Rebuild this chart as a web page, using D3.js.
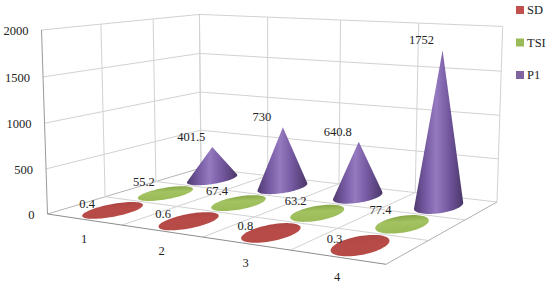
<!DOCTYPE html>
<html><head><meta charset="utf-8">
<script src="https://cdn.jsdelivr.net/npm/d3@7"></script>
<style>html,body{margin:0;padding:0;background:#fff}svg{display:block}text{font-family:"Liberation Serif",serif;fill:#222;font-size:12.5px}</style>
</head><body><svg id="c" width="550" height="284"></svg>
<script>
const categories = ["1","2","3","4"];
const seriesNames = ["SD","TSI","P1"];
const sdValues = [0.4,0.6,0.8,0.3];
const tsiValues = [55.2,67.4,63.2,77.4];
const p1Values = [401.5,730,640.8,1752];
const yTicks = [0,500,1000,1500,2000];

const FL=[47.5,214], FR=[386,264.3], BR=[497,202], BL=[201,168];
const VP=[273,7145], leftTopY=30;

function homography(p00,p10,p11,p01){
  const dx1=p10[0]-p11[0],dx2=p01[0]-p11[0],sx=p00[0]-p10[0]+p11[0]-p01[0];
  const dy1=p10[1]-p11[1],dy2=p01[1]-p11[1],sy=p00[1]-p10[1]+p11[1]-p01[1];
  const d=dx1*dy2-dx2*dy1;
  const g=(sx*dy2-dx2*sy)/d,h=(dx1*sy-sx*dy1)/d;
  return {a:p10[0]-p00[0]+g*p10[0],b:p01[0]-p00[0]+h*p01[0],c:p00[0],
          d:p10[1]-p00[1]+g*p10[1],e:p01[1]-p00[1]+h*p01[1],f:p00[1],g,h};
}
const H=homography(FL,FR,BR,BL);
const s=(leftTopY-FL[1])/(VP[1]-leftTopY);
const hScale=d3.scaleLinear().domain([0,2000]).range([0,1]);
function project(u,v,val){
  const t=hScale(val||0)*s;
  const X=H.a*u+H.b*v+H.c+t*VP[0],Y=H.d*u+H.e*v+H.f+t*VP[1],W=H.g*u+H.h*v+1+t;
  return [X/W,Y/W];
}
const uScale=d3.scaleBand().domain(categories).range([0,1]);
const vScale=d3.scaleBand().domain(seriesNames).range([0,1]);
const svg=d3.select("#c");
const defs=svg.append("defs");

const palette={
 SD:{swatch:"#c0504d",stops:[[0,"#ab4542"],[0.5,"#b84b48"],[1,"#b54a47"]],dir:"v"},
 TSI:{swatch:"#9bbb59",stops:[[0,"#7f9f40"],[0.45,"#a3c261"],[1,"#9abb57"]],dir:"v"},
 P1:{swatch:"#8064a2",stops:[[0,"#4f3b70"],[0.22,"#7458a0"],[0.45,"#957ac0"],[0.7,"#7458a0"],[1,"#4a3768"]],dir:"h"}
};
seriesNames.forEach(n=>{
 const p=palette[n];
 const g=defs.append("linearGradient").attr("id","g"+n).attr("x1",0).attr("y1",0)
   .attr("x2",p.dir==="h"?1:0.15).attr("y2",p.dir==="h"?0:1);
 p.stops.forEach(([o,c])=>g.append("stop").attr("offset",o).attr("stop-color",c));
});

const line=d3.line();
const closed=d3.line().curve(d3.curveLinearClosed);
const grid=svg.append("g").attr("fill","none");
function seg(a,b,col,w){grid.append("path").attr("d",line([a,b])).attr("stroke",col).attr("stroke-width",w||1);}
const gridCol="#d2d2d2";
yTicks.forEach(t=>{
  seg(project(0,0,t),project(0,1,t),t===0?"#b5b5b5":gridCol);
  seg(project(0,1,t),project(1,1,t),gridCol);
});
const uEdges=d3.range(categories.length+1).map(i=>i/categories.length);
const vEdges=d3.range(seriesNames.length+1).map(i=>i/seriesNames.length);
uEdges.forEach(u=>{ seg(project(u,1,0),project(u,1,2000),gridCol); if(u>0&&u<1) seg(project(u,0,0),project(u,1,0),gridCol); });
vEdges.forEach(v=>{ if(v>0) seg(project(0,v,0),project(0,v,2000),gridCol); if(v>0&&v<1) seg(project(0,v,0),project(1,v,0),gridCol); });
seg(project(1,0,0),project(1,1,0),"#b0b0b0");
seg(project(0,0,0),project(0,0,2000),"#9a9a9a");
seg(project(0,0,0),project(1,0,0),"#8c8c8c");

const rows=[["P1",p1Values],["TSI",tsiValues],["SD",sdValues]];
const RU=0.23*uScale.bandwidth(), RV=0.45*vScale.bandwidth();
const marks=svg.append("g");
const angles=d3.range(0,360,5).map(a=>a*Math.PI/180);
rows.forEach(([name,vals])=>{
  categories.forEach((c,i)=>{
    const u=uScale(c)+uScale.bandwidth()/2, v=vScale(name)+vScale.bandwidth()/2;
    const base=angles.map(a=>project(u+RU*Math.cos(a),v+RV*Math.sin(a),0));
    const apex=project(u,v,vals[i]);
    const hull=d3.polygonHull(base.concat([apex]));
    marks.append("path").attr("d",closed(hull)).attr("fill",`url(#g${name})`);
  });
});
const labelOffset={P1:[-21,-6],TSI:[-22,-2.5],SD:[-26,-2.5]};
const labels=svg.append("g");
rows.forEach(([name,vals])=>{
  categories.forEach((c,i)=>{
    const u=uScale(c)+uScale.bandwidth()/2, v=vScale(name)+vScale.bandwidth()/2;
    const a=project(u,v,vals[i]);
    labels.append("text").attr("x",a[0]+labelOffset[name][0]).attr("y",a[1]+labelOffset[name][1]).attr("text-anchor","middle").text(vals[i]);
  });
});
yTicks.forEach(t=>{
  const p=project(0,0,t);
  svg.append("text").attr("x",p[0]-13).attr("y",p[1]+5).attr("text-anchor","end").text(t);
});
categories.forEach(c=>{
  const p=project(uScale(c)+uScale.bandwidth()/2,0,0);
  svg.append("text").attr("x",p[0]).attr("y",p[1]+24).attr("text-anchor","middle").text(c);
});
const legendY=d3.scalePoint().domain(seriesNames).range([10,75]);
seriesNames.forEach(n=>{
  svg.append("rect").attr("x",516).attr("y",legendY(n)-4).attr("width",8).attr("height",8).attr("fill",palette[n].swatch);
  svg.append("text").attr("x",527).attr("y",legendY(n)+4).text(n);
});
</script></body></html>
